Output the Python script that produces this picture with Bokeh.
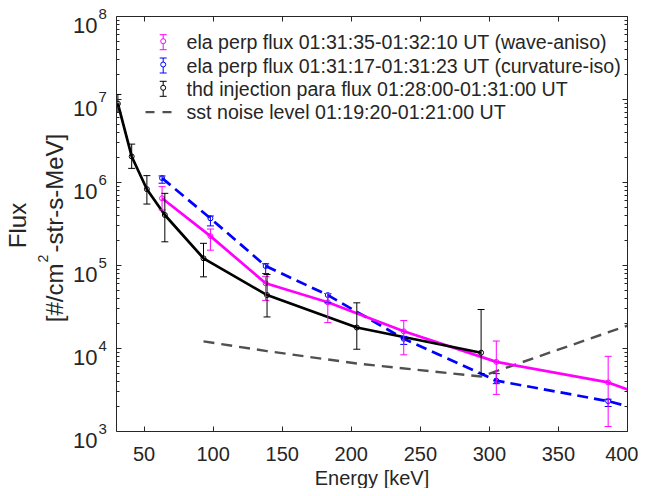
import math
from bokeh.plotting import figure
from bokeh.models import (ColumnDataSource, Whisker, TeeHead, Label, LogAxis, LinearAxis,
                          Range1d, FixedTicker, CustomJSTickFormatter, BoxAnnotation)
from bokeh.embed import file_html
from bokeh.resources import INLINE

# ---------------- data ----------------
thd_energy = [31, 41, 52, 65, 93, 139, 204, 294]
thd_flux = [8.9e6, 2.06e6, 8.3e5, 4.06e5, 1.22e5, 4.4e4, 1.79e4, 8.9e3]
thd_upper = [1.15e7, 2.9e6, 1.21e6, 7.4e5, 1.85e5, 7.8e4, 3.55e4, 2.95e4]
thd_lower = [7.0e6, 1.48e6, 5.5e5, 1.93e5, 7.3e4, 2.4e4, 9.8e3, 5.0e3]

ela_energy = [63, 98, 138, 183, 238, 305, 386, 489]
wave_flux = [6.46e5, 2.26e5, 6.1e4, 3.6e4, 1.61e4, 6.9e3, 3.9e3, 9.3e2]
wave_upper = [8.9e5, 2.75e5, 7.4e4, 4.6e4, 2.17e4, 1.23e4, 8.05e3, 2.0e3]
wave_lower = [4.67e5, 1.53e5, 3.8e4, 2.05e4, 8.4e3, 2.8e3, 1.15e3, 4.0e2]

curv_flux = [1.13e6, 3.7e5, 9.85e4, 4.4e4, 1.31e4, 4.1e3, 2.32e3, 8.3e2]
curv_upper = [1.2e6, 3.95e5, 1.05e5, 4.6e4, 1.4e4, 4.98e3, 2.45e3, 9.0e2]
curv_lower = [9.8e5, 3.0e5, 8.0e4, 3.55e4, 1.12e4, 3.77e3, 2.0e3, 7.6e2]

noise_energy = [93, 139, 204, 294, 408]
noise_flux = [1.22e4, 9.3e3, 6.6e3, 4.6e3, 2.1e4]

x_ticks = [50, 100, 150, 200, 250, 300, 350, 400]
y_exponents = [3, 4, 5, 6, 7, 8]

legend_labels = [
    "ela perp flux 01:31:35-01:32:10 UT (wave-aniso)",
    "ela perp flux 01:31:17-01:31:23 UT (curvature-iso)",
    "thd injection para flux 01:28:00-01:31:00 UT",
    "sst noise level 01:19:20-01:21:00 UT",
]

# ---------------- style ----------------
FONT = "Liberation Sans"
TXT = "#262626"
MAG = "#FF00FF"
BLU = "#0000FF"
BLK = "#000000"
GRY = "#505050"

X0, X1 = 30, 400
Y0, Y1 = 1e3, 1e8

W, H = 638, 488
BL, BR, BT, BB = 116, 627, 16, 431   # axes box edges in canvas px


def px2x(px):
    return X0 + (px - BL) / (BR - BL) * (X1 - X0)


def py2y(py):
    ly = math.log10(Y1) - (py - BT) / (BB - BT) * (math.log10(Y1) - math.log10(Y0))
    return 10 ** ly


def ypix(v):
    return BT + (math.log10(Y1) - math.log10(v)) / (math.log10(Y1) - math.log10(Y0)) * (BB - BT)


p = figure(width=W, height=H, output_backend="svg", toolbar_location=None, title=None,
           y_axis_type="log", x_axis_location=None, y_axis_location=None,
           x_range=Range1d(px2x(0), px2x(W)), y_range=Range1d(py2y(H), py2y(0)),
           min_border=0, min_border_left=0, min_border_right=0, min_border_top=0,
           min_border_bottom=0)
for g in p.grid:
    g.visible = False
p.outline_line_color = None
p.background_fill_color = "white"
p.border_fill_color = "white"

# ---------------- data marks ----------------
def series(xs, ys, up, lo, color, dash):
    src = ColumnDataSource(dict(x=xs, y=ys, upper=up, lower=lo))
    p.line("x", "y", source=src, line_color=color, line_width=2.7, line_dash=dash)
    p.add_layout(Whisker(source=src, base="x", upper="upper", lower="lower",
                         dimension="height", line_color=color, line_width=1, level="glyph",
                         upper_head=TeeHead(size=7, line_color=color, line_width=1),
                         lower_head=TeeHead(size=7, line_color=color, line_width=1)))
    p.scatter("x", "y", source=src, size=5, marker="circle", fill_color=None,
              line_color=color, line_width=1)


p.line(noise_energy, noise_flux, line_color=GRY, line_width=2.4, line_dash="11 7")
series(ela_energy, curv_flux, curv_upper, curv_lower, BLU, "11 6")
series(ela_energy, wave_flux, wave_upper, wave_lower, MAG, "solid")
series(thd_energy, thd_flux, thd_upper, thd_lower, BLK, "solid")

# white masks: clip the data to the axes box
for kw in (dict(right=X0), dict(left=X1), dict(bottom=Y1), dict(top=Y0)):
    p.add_layout(BoxAnnotation(fill_color="white", fill_alpha=1, line_color=None,
                               level="glyph", **kw))

# ---------------- axes (box) ----------------
minor_y = [k * 10 ** e for e in y_exponents[:-1] for k in range(2, 10)]
yt = FixedTicker(ticks=[10 ** e for e in y_exponents], minor_ticks=minor_y)
xt = FixedTicker(ticks=x_ticks, minor_ticks=[])


def style_axis(ax, labels):
    ax.axis_line_color = TXT
    ax.major_tick_line_color = TXT
    ax.minor_tick_line_color = TXT
    ax.major_tick_in = 5
    ax.major_tick_out = 0
    ax.minor_tick_in = 3
    ax.minor_tick_out = 0
    if not labels:
        ax.formatter = CustomJSTickFormatter(code="return '';")
        ax.major_label_standoff = 0


yl = LogAxis(ticker=yt, fixed_location=X0, bounds=(Y0, Y1))
yr = LogAxis(ticker=yt, fixed_location=X1, bounds=(Y0, Y1))
xb = LinearAxis(ticker=xt, fixed_location=Y0, bounds=(X0, X1))
xtop = LinearAxis(ticker=xt, fixed_location=Y1, bounds=(X0, X1))
style_axis(yl, False)
style_axis(yr, False)
style_axis(xtop, False)
style_axis(xb, True)
xb.major_label_text_font = FONT
xb.major_label_text_font_size = "20px"
xb.major_label_text_color = TXT
xb.major_label_standoff = 15
xb.axis_label = "Energy [keV]"
xb.axis_label_text_font = FONT
xb.axis_label_text_font_size = "20px"
xb.axis_label_text_font_style = "normal"
xb.axis_label_text_color = TXT
xb.axis_label_standoff = 3
p.add_layout(yl, "left")
p.add_layout(yr, "right")
p.add_layout(xb, "below")
p.add_layout(xtop, "above")


def lab(text, px, py, size, align="left", angle=0.0):
    # screen units: frame == whole canvas, origin at bottom-left
    p.add_layout(Label(x=px, y=H - py, x_units="screen", y_units="screen",
                       text=text, angle=angle,
                       text_align=align, text_baseline="middle",
                       text_font=FONT, text_font_size=size, text_color=TXT))


# ---------------- tick labels (10^n) ----------------
for e in y_exponents:
    yy = ypix(10 ** e)
    lab("10", 97, yy + 9, "22px", "right")
    lab(str(e), 98, yy - 3, "15px", "left")

# ---------------- y axis label ----------------
lab("Flux", 17, 225, "24px", "center", math.pi / 2)
lab("[#/cm", 54, 263, "24px", "right", math.pi / 2)
lab("2", 42.5, 258, "14px", "center", math.pi / 2)
lab("-str-s-MeV]", 54, 252, "24px", "left", math.pi / 2)

# ---------------- legend ----------------
rows = [41.7, 65.0, 88.3, 111.6]
colors = [MAG, BLU, BLK]
ix = 162.7
for r, c in zip(rows[:3], colors):
    p.segment([px2x(ix)], [py2y(r - 7.5)], [px2x(ix)], [py2y(r + 7.5)], line_color=c, line_width=1)
    p.segment([px2x(ix - 3.5), px2x(ix - 3.5)], [py2y(r - 7.5), py2y(r + 7.5)],
              [px2x(ix + 3.5), px2x(ix + 3.5)], [py2y(r - 7.5), py2y(r + 7.5)],
              line_color=c, line_width=1)
    p.scatter([px2x(ix)], [py2y(r - 1)], size=5, marker="circle", fill_color="white",
              line_color=c, line_width=1)
p.line([px2x(145), px2x(175)], [py2y(rows[3]), py2y(rows[3])], line_color=GRY,
       line_width=2.4, line_dash="9 8")
for r, t in zip(rows, legend_labels):
    lab(t, 186, r, "19.6px", "left")

open("out.html", "w").write(file_html(p, INLINE))
